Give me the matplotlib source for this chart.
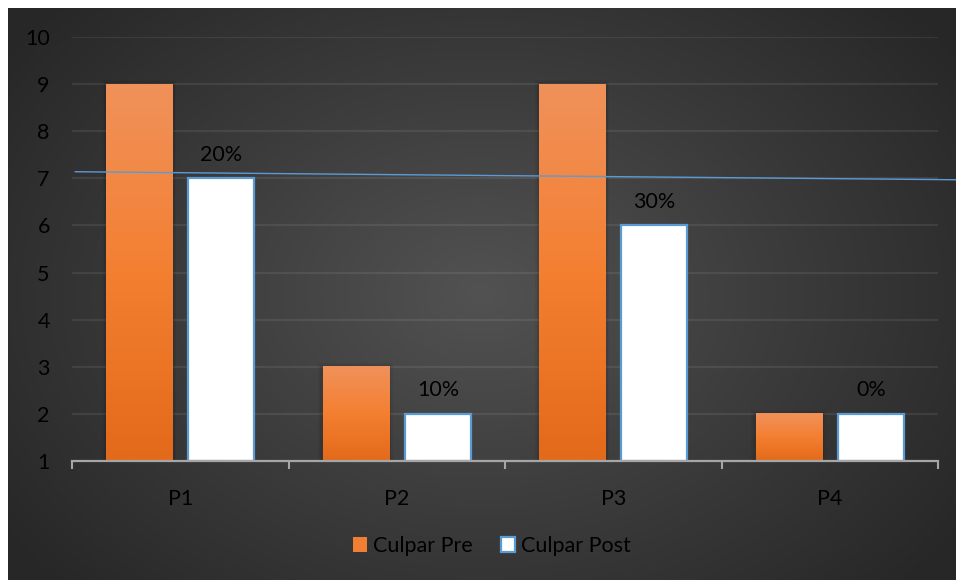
import numpy as np
import matplotlib
matplotlib.use("Agg")
import matplotlib.pyplot as plt
from matplotlib.colors import LinearSegmentedColormap
from matplotlib.patches import Patch

# data
categories = ["P1", "P2", "P3", "P4"]
culpar_pre = [9, 3, 9, 2]
culpar_post = [7, 2, 6, 2]
post_labels = ["20%", "10%", "30%", "0%"]
y_ticks = list(range(1, 11))
trend_y = [7.14, 6.97]   # the thin blue line, left end / right end

plt.rcParams["font.family"] = ["Lato", "DejaVu Sans"]
FS = 15.5
TXT = "#000000"

fig = plt.figure(figsize=(9.56, 5.80), dpi=100)
fig.patch.set_facecolor("white")

# radial dark background, with the white strip left and top
bg = fig.add_axes([8 / 956, 0, 948 / 956, 572 / 580], zorder=-10)
yy, xx = np.mgrid[0:1:300j, 0:1:500j]
r = np.sqrt(((xx - 0.5) / 0.62) ** 2 + ((yy - 0.5) / 0.75) ** 2)
bg_cmap = LinearSegmentedColormap.from_list("bg", ["#525252", "#3c3c3c", "#272727"])
bg.imshow(np.clip(r, 0, 1), cmap=bg_cmap, aspect="auto", extent=[0, 1, 0, 1], vmin=0, vmax=1)
bg.axis("off")

ax = fig.add_axes([72 / 956, 119 / 580, 866 / 956, 424 / 580])
ax.patch.set_alpha(0)

x = np.arange(len(categories))
width = 0.305
off = 0.19
base = y_ticks[0]

orange_cmap = LinearSegmentedColormap.from_list("org", ["#e36a1a", "#f47f31", "#f0915a"])
grad = np.linspace(0, 1, 100).reshape(-1, 1)

# orange bars with a vertical gradient + faint shadow
for xi, v in zip(x - off, culpar_pre):
    for k, a in [(0.02, 0.05), (0.012, 0.07)]:
        ax.add_patch(plt.Rectangle((xi - width / 2 - k, base), width + 2 * k, v - base + k * 4,
                                   facecolor="black", alpha=a, lw=0, zorder=2))
    ax.imshow(grad, cmap=orange_cmap, origin="lower", aspect="auto",
              extent=[xi - width / 2, xi + width / 2, base, v], zorder=3)

ax.bar(x + off, np.array(culpar_post) - base, bottom=base, width=width,
       color="white", edgecolor="#5b9bd5", linewidth=1.6, zorder=3)

for xi, v, lab in zip(x + off, culpar_post, post_labels):
    ax.text(xi, v + 0.5, lab, ha="center", va="center", fontsize=FS, color=TXT, zorder=5)

# thin blue line running across the plot
ax.plot([-0.485, 3.584], trend_y, color="#5b9bd5", lw=1.0, clip_on=False, zorder=6)

ax.set_xlim(-0.5, 3.5)
ax.set_ylim(1, 10)
ax.set_yticks(y_ticks)
ax.set_yticklabels([str(t) for t in y_ticks], fontsize=FS, color=TXT)
ax.tick_params(axis="y", length=0, pad=16)
for t in y_ticks[1:]:
    ax.axhline(t, color="white", alpha=0.08, lw=1.6, zorder=1)

ax.set_xticks(np.arange(-0.5, 4.0, 1.0), minor=False)
ax.set_xticklabels([])
ax.set_xticks(x, minor=True)
ax.set_xticklabels(categories, minor=True, fontsize=FS, color=TXT)
ax.tick_params(axis="x", which="major", length=6, width=1.5, color="#a6a6a6", direction="out")
ax.tick_params(axis="x", which="minor", length=0, pad=20)

for s in ["left", "right", "top"]:
    ax.spines[s].set_visible(False)
ax.spines["bottom"].set_color("#a6a6a6")
ax.spines["bottom"].set_linewidth(1.6)
ax.spines["bottom"].set_zorder(4)

handles = [Patch(facecolor="#f07f33", edgecolor="none", label="Culpar Pre"),
           Patch(facecolor="white", edgecolor="#5b9bd5", linewidth=1.6, label="Culpar Post")]
leg = fig.legend(handles=handles, loc="center", bbox_to_anchor=(492 / 956, 1 - 546 / 580),
                 ncol=2, frameon=False, fontsize=FS, handlelength=0.65, handleheight=0.65,
                 handletextpad=0.3, columnspacing=1.3)
for t in leg.get_texts():
    t.set_color(TXT)

fig.savefig("out.png", dpi=100, facecolor=fig.get_facecolor())
